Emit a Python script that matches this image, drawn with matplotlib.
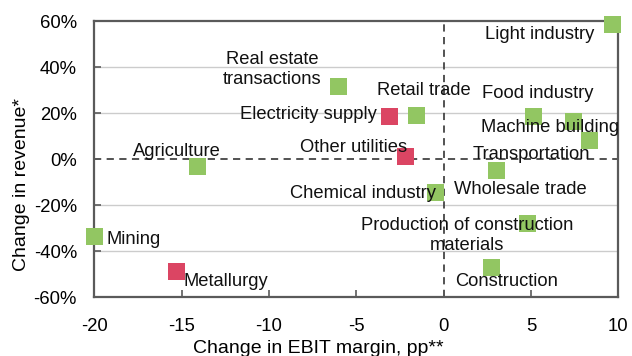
import matplotlib
matplotlib.use("Agg")
import matplotlib.pyplot as plt
from matplotlib.ticker import FuncFormatter

plt.rcParams['font.family'] = ['Liberation Sans', 'DejaVu Sans']
plt.rcParams['axes.unicode_minus'] = False

# sectors: change in EBIT margin (pp) and change in revenue (%)
sectors = ["Light industry", "Real estate transactions", "Electricity supply", "Retail trade",
           "Other utilities", "Food industry", "Machine building", "Transportation",
           "Wholesale trade", "Chemical industry", "Production of construction materials",
           "Construction", "Mining", "Metallurgy", "Agriculture"]
ebit_change = [9.65, -6.0, -3.1, -1.55, -2.2, 5.13, 7.42, 8.33, 3.03, -0.48, 4.79, 2.72, -20.0, -15.28, -14.1]
revenue_change = [58.5, 31.5, 18.6, 18.9, 1.3, 18.6, 16.5, 8.0, -5.1, -14.4, -27.8, -46.9, -33.7, -48.9, -3.3]
highlight = [False, False, True, False, True, False, False, False, False, False, False, False, False, True, False]

# label text and where it sits (data coords, centred)
label_text = ["Light industry", "Real estate\ntransactions", "Electricity supply", "Retail trade",
              "Other utilities", "Food industry", "Machine building", "Transportation",
              "Wholesale trade", "Chemical industry", "Production of construction\nmaterials",
              "Construction", "Mining", "Metallurgy", "Agriculture"]
label_x = [5.52, -9.83, -7.73, -1.11, -5.13, 5.37, 6.07, 5.04, 4.41, -4.62, 1.35, 3.61, -17.72, -12.49, -15.27]
label_y = [54.3, 38.8, 19.4, 29.6, 5.2, 28.4, 13.6, 2.1, -13.1, -15.0, -33.1, -53.0, -34.9, -53.0, 3.2]

green = "#92c662"
red = "#db4563"

fig = plt.figure(figsize=(6.32, 3.56), dpi=100)
ax = fig.add_axes([0.1492, 0.1649, 0.8291, 0.7761])

ax.set_xlim(-20, 10)
ax.set_ylim(-60, 60)
ax.set_yticks([-60, -40, -20, 0, 20, 40, 60])
ax.set_xticks([-20, -15, -10, -5, 0, 5, 10])
ax.yaxis.set_major_formatter(FuncFormatter(lambda v, p: f"{v:.0f}%"))

for v in [-40, -20, 20, 40]:
    ax.axhline(v, color="#cccccc", lw=1, zorder=0)
ax.axhline(0, color="#444444", lw=1.3, ls=(0, (4, 3)), zorder=1)
ax.axvline(0, color="#444444", lw=1.3, ls=(0, (4, 3)), zorder=1)

for s in ax.spines.values():
    s.set_color("#5a5a5a")
    s.set_linewidth(1.6)

ax.tick_params(direction="in", length=5, width=1.2, color="#5a5a5a", labelsize=13.3)
ax.tick_params(axis="x", pad=15)
ax.tick_params(axis="y", pad=12.5)

cols = [red if h else green for h in highlight]
ax.scatter(ebit_change, revenue_change, marker="s", s=150, c=cols, linewidths=0,
           zorder=3, clip_on=False)

for t, lx, ly in zip(label_text, label_x, label_y):
    ax.text(lx, ly, t, ha="center", va="center", fontsize=13.25, color="#111111",
            linespacing=1.25, zorder=4)

ax.set_xlabel("Change in EBIT margin, pp**", fontsize=14, va="center")
ax.set_ylabel("Change in revenue*", fontsize=14, va="center")
ax.xaxis.set_label_coords(0.4275, -0.187)
ax.yaxis.set_label_coords(-0.139, 0.41)

fig.savefig("out.png", dpi=100)
